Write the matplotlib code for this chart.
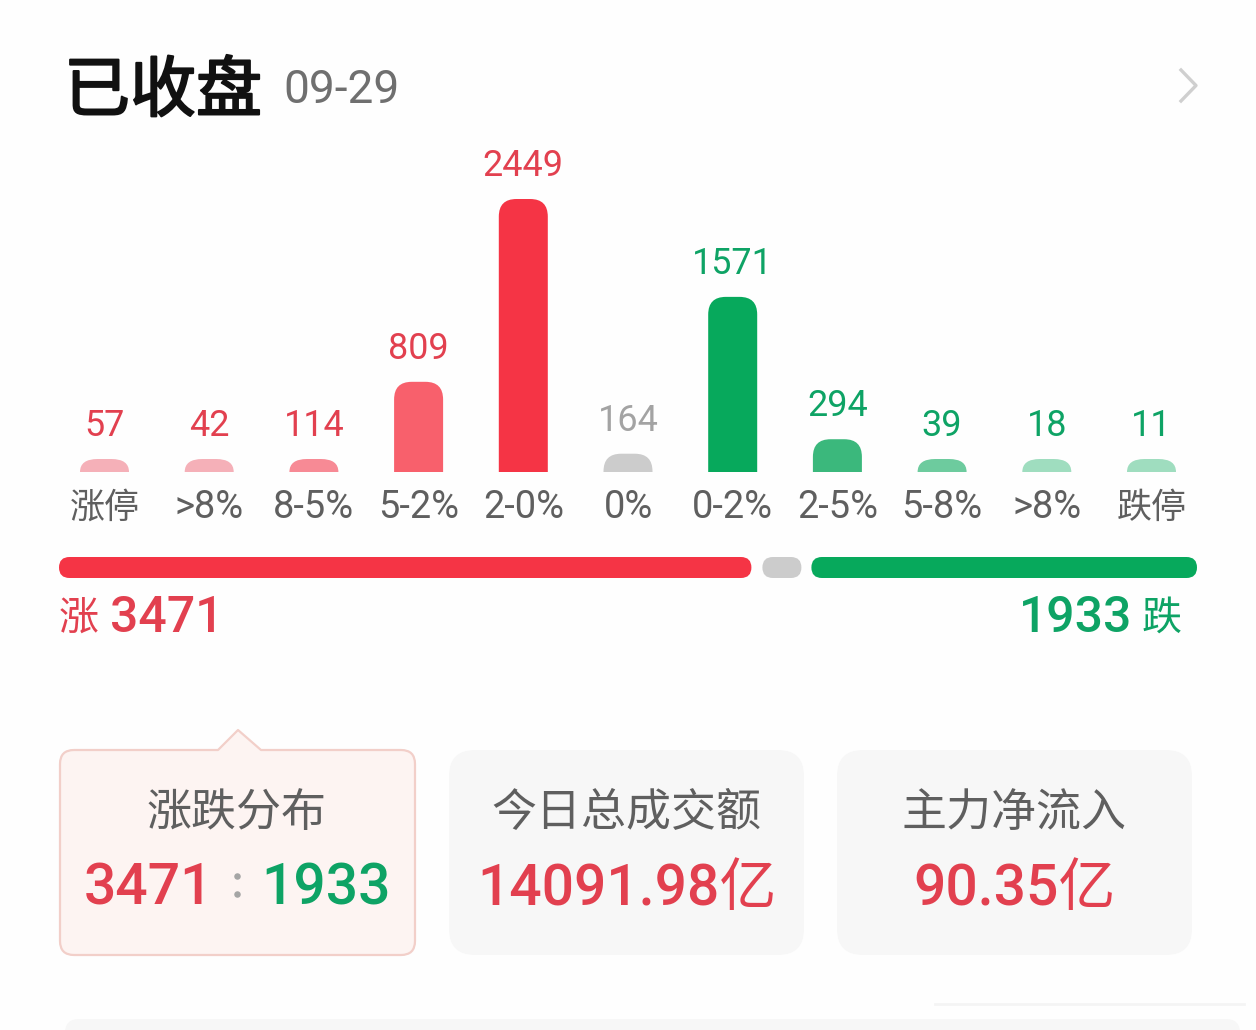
import matplotlib
matplotlib.use('Agg')
import matplotlib.pyplot as plt
import matplotlib.patheffects as pe
from matplotlib.patches import FancyBboxPatch, PathPatch
from matplotlib.path import Path

plt.rcParams['font.family'] = ['Roboto', 'Noto Sans CJK SC', 'DejaVu Sans']

# data
categories = ['涨停', '>8%', '8-5%', '5-2%', '2-0%', '0%', '0-2%', '2-5%', '5-8%', '>8%', '跌停']
counts = [57, 42, 114, 809, 2449, 164, 1571, 294, 39, 18, 11]
bar_colors = ['#f5b0b8', '#f5b0b8', '#f78a95', '#f8606c', '#f53445', '#cccccc',
              '#07a95c', '#3bb87c', '#6dcb9e', '#9fddbf', '#9fddbf']
label_colors = ['#e2404f'] * 5 + ['#a3a3a3'] + ['#0ea365'] * 5
up_total = 3471
down_total = 1933
flat_total = 164
cards = ['今日总成交额', '主力净流入']
card_values = ['14091.98亿', '90.35亿']

RED = '#e2404f'
GREEN = '#0ea365'
GREY_TEXT = '#5f5f5f'


def px(size):
    return size * 0.72


def rounded_top_bar(ax, x, base, w, h, color):
    rx = w / 2 * 0.72
    ry = min(rx, h)
    left, right = x - w / 2, x + w / 2
    top = base - h
    verts = [(left, base), (left, top + ry), (left, top), (left + rx, top),
             (right - rx, top), (right, top), (right, top + ry), (right, base), (left, base)]
    codes = [Path.MOVETO, Path.LINETO, Path.CURVE3, Path.CURVE3,
             Path.LINETO, Path.CURVE3, Path.CURVE3, Path.LINETO, Path.CLOSEPOLY]
    ax.add_patch(PathPatch(Path(verts, codes), fc=color, ec='none'))


def pill(ax, x0, x1, y0, y1, color, rad=None, ec='none', lw=0):
    rad = (y1 - y0) / 2 if rad is None else rad
    ax.add_patch(FancyBboxPatch((x0 + rad, y0 + rad), x1 - x0 - 2 * rad, y1 - y0 - 2 * rad,
                                boxstyle='round,pad=%f,rounding_size=%f' % (rad, rad),
                                fc=color, ec=ec, lw=lw))


fig = plt.figure(figsize=(12.56, 10.30), dpi=100, facecolor='#fefefe')
ax = fig.add_axes([0, 0, 1, 1])
ax.set_xlim(0, 1256)
ax.set_ylim(1030, 0)
ax.axis('off')

# header
title = ax.text(64, 93, '已收盘', fontsize=px(66), fontweight='medium', color='#111111', va='center', ha='left')
title.set_path_effects([pe.withStroke(linewidth=1.5, foreground='#111111')])
ax.text(283, 90, '09-29', fontsize=px(46), color='#6f6f6f', va='center', ha='left')
ax.plot([1181, 1196, 1181], [70, 85.5, 101], color='#cfcfcf', lw=2.4)

# bars
scale = 273 / 2449
base = 472
for i, (name, val, col, lab) in enumerate(zip(categories, counts, bar_colors, label_colors)):
    x = 104.5 + i * 104.7
    h = max(val * scale, 13)
    rounded_top_bar(ax, x, base, 49, h, col)
    ax.text(x, base - h - 33, str(val), fontsize=px(36), color=lab, ha='center', va='center')
    size = 35 if name in ('涨停', '跌停') else 38
    ax.text(x, 508, name, fontsize=px(size), color=GREY_TEXT, ha='center', va='center')

# up / flat / down strip
strip = 1138 - 21 - 39
per = strip / (up_total + down_total)
up_end = 59 + up_total * per
pill(ax, 59, up_end, 557, 578, '#f53445')
pill(ax, up_end + 11, up_end + 50, 557, 578, '#cccccc')
pill(ax, up_end + 60, 1197, 557, 578, '#07a95c')
ax.text(59, 619, '涨', fontsize=px(40), color=RED, fontweight='medium', ha='left', va='center')
ax.text(110, 618, str(up_total), fontsize=px(50), color=RED, fontweight='medium', ha='left', va='center')
ax.text(1132, 618, str(down_total), fontsize=px(50), color=GREEN, fontweight='medium', ha='right', va='center')
ax.text(1142, 619, '跌', fontsize=px(40), color=GREEN, fontweight='medium', ha='left', va='center')

# selected card with pointer
x0, x1, y0, y1, r = 60, 415, 750, 955, 14
verts = [(x0 + r, y0), (218, y0), (238, 730), (261, y0), (x1 - r, y0), (x1, y0), (x1, y0 + r),
         (x1, y1 - r), (x1, y1), (x1 - r, y1), (x0 + r, y1), (x0, y1), (x0, y1 - r),
         (x0, y0 + r), (x0, y0), (x0 + r, y0)]
codes = [Path.MOVETO, Path.LINETO, Path.LINETO, Path.LINETO, Path.LINETO, Path.CURVE3, Path.CURVE3,
         Path.LINETO, Path.CURVE3, Path.CURVE3, Path.LINETO, Path.CURVE3, Path.CURVE3,
         Path.LINETO, Path.CURVE3, Path.CURVE3]
ax.add_patch(PathPatch(Path(verts, codes), fc='#fdf4f2', ec='#f2cfc9', lw=1.6, joinstyle='round'))
ax.text(237, 814, '涨跌分布', fontsize=px(45), color=GREY_TEXT, ha='center', va='center')
ax.text(213, 889, str(up_total), fontsize=px(57), color=RED, fontweight='medium', ha='right', va='center')
ax.text(261, 889, str(down_total), fontsize=px(57), color=GREEN, fontweight='medium', ha='left', va='center')
ax.scatter([237, 237], [876, 894], s=22, color='#a5a5a5', linewidths=0)

# other cards
for (cx0, cx1), name, val in zip([(449, 804), (837, 1192)], cards, card_values):
    pill(ax, cx0, cx1, 750, 955, '#f7f7f7', rad=26)
    mid = (cx0 + cx1) / 2
    ax.text(mid, 814, name, fontsize=px(45), color=GREY_TEXT, ha='center', va='center')
    ax.text(mid, 889, val, fontsize=px(57), color=RED, fontweight='medium', ha='center', va='center')

# faint band along the bottom and the smudge above it
pill(ax, 65, 1240, 1019, 1050, '#f7f7f7', rad=14)
ax.plot([935, 1244], [1004, 1004], color='#f4f4f4', lw=2)

fig.savefig('out.png', dpi=100, facecolor=fig.get_facecolor())
